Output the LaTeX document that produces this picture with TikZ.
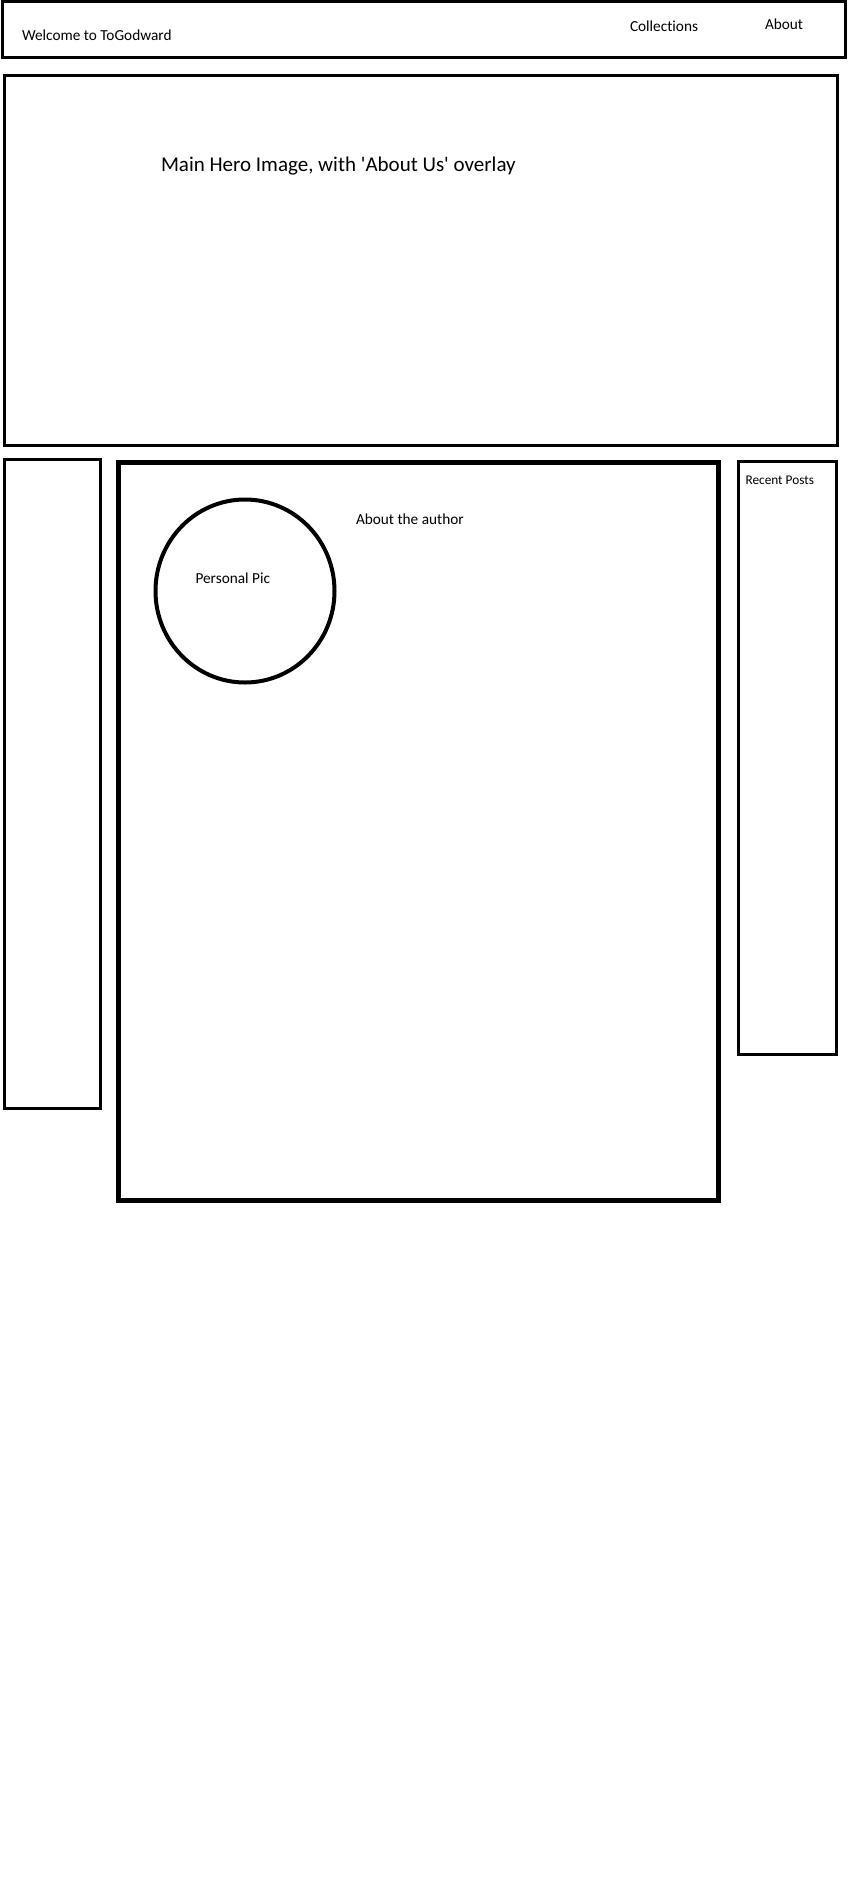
\documentclass[tikz,border=0pt]{standalone}
\usepackage{fontspec}
\setmainfont{Carlito}[Ligatures={NoCommon}]
\usetikzlibrary{shapes.geometric}
\begin{document}
\begin{tikzpicture}[x=1pt,y=-1pt,
  box/.style={draw=black,line width=3pt,rectangle,inner sep=0pt,outer sep=0pt},
  lbl/.style={inner sep=0pt,outer sep=0pt,anchor=west,font=\fontsize{15.3}{18}\selectfont}]
\useasboundingbox[fill=white] (0,0) rectangle (848,1879);
\node[box,minimum width=843.5pt,minimum height=56pt] (header) at (423.75,29.5) {};
\node[box,minimum width=832.5pt,minimum height=370pt] (hero) at (420.75,260) {};
\node[box,minimum width=95.5pt,minimum height=649pt] (left) at (52.25,783.5) {};
\node[box,line width=5pt,minimum width=600pt,minimum height=737.5pt] (main) at (418.5,831.25) {};
\node[box,minimum width=97.5pt,minimum height=592.5pt] (right) at (787.25,757.75) {};
\node[draw=black,line width=4pt,ellipse,inner sep=0pt,minimum width=179pt,minimum height=183pt] (pic) at (245,591) {};
\node[lbl] (welcome) at (22,35) {Welcome to ToGodward};
\node[lbl] (coll) at (630,26.5) {Collections};
\node[lbl] (about) at (765,24.5) {About};
\node[lbl,font=\fontsize{21}{25}\selectfont] (herotxt) at (161,166) {Main Hero Image, with \textquotesingle About Us\textquotesingle\ overlay};
\node[lbl] (author) at (356,519) {About the author};
\node[lbl] (ptxt) at (195.5,578.5) {Personal Pic};
\node[lbl,font=\fontsize{13.3}{16}\selectfont] (recent) at (745.5,480) {Recent Posts};
\end{tikzpicture}
\end{document}
